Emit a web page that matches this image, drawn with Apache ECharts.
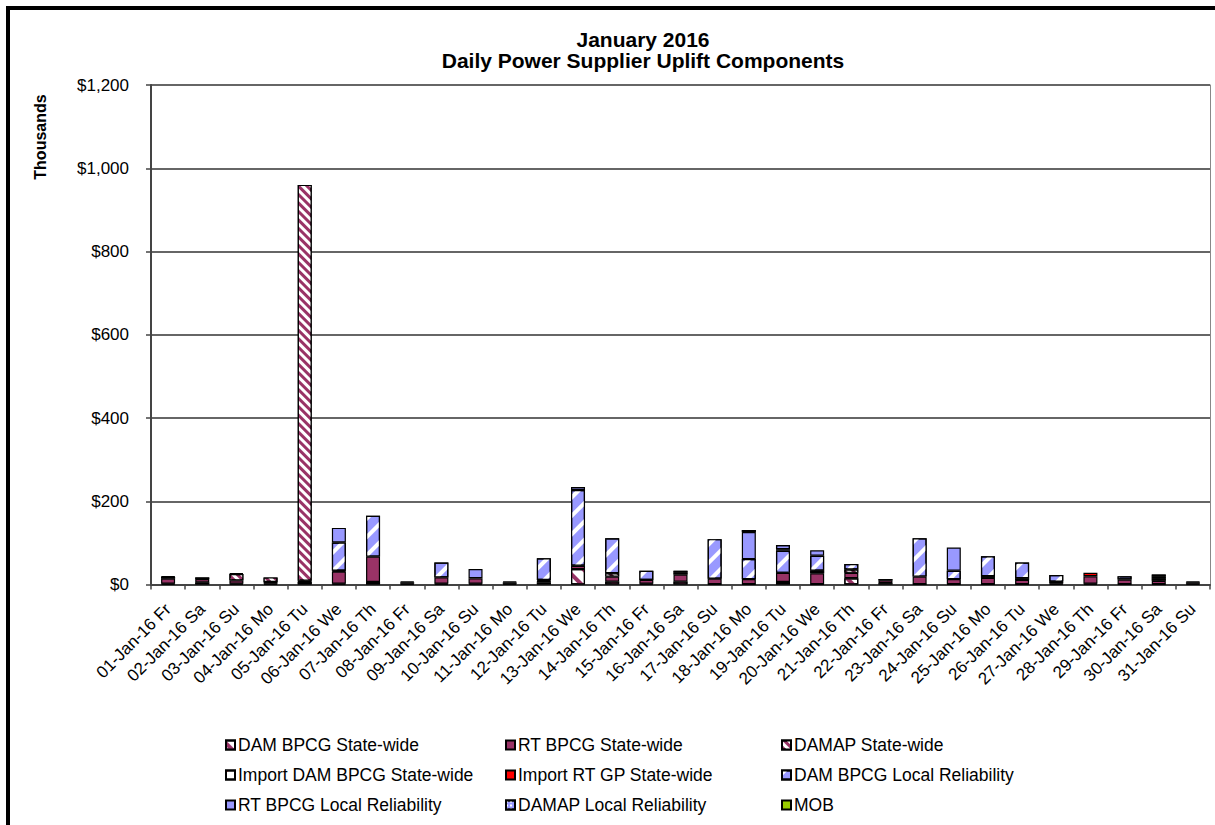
<!DOCTYPE html>
<html>
<head>
<meta charset="utf-8">
<script src="https://cdn.jsdelivr.net/npm/echarts@6/dist/echarts.min.js"></script>
<style>
  html, body { margin: 0; padding: 0; background: #fff; }
  #chart { width: 1215px; height: 825px; }
</style>
</head>
<body>
<div id="chart"></div>
<script>
// categories
const days = [
  '01-Jan-16 Fr', '02-Jan-16 Sa', '03-Jan-16 Su', '04-Jan-16 Mo', '05-Jan-16 Tu', '06-Jan-16 We', '07-Jan-16 Th',
  '08-Jan-16 Fr', '09-Jan-16 Sa', '10-Jan-16 Su', '11-Jan-16 Mo', '12-Jan-16 Tu', '13-Jan-16 We', '14-Jan-16 Th',
  '15-Jan-16 Fr', '16-Jan-16 Sa', '17-Jan-16 Su', '18-Jan-16 Mo', '19-Jan-16 Tu', '20-Jan-16 We', '21-Jan-16 Th',
  '22-Jan-16 Fr', '23-Jan-16 Sa', '24-Jan-16 Su', '25-Jan-16 Mo', '26-Jan-16 Tu', '27-Jan-16 We', '28-Jan-16 Th',
  '29-Jan-16 Fr', '30-Jan-16 Sa', '31-Jan-16 Su'
];

// values in thousands of dollars
const damBpcgSw   = [2, 5, 2, 2, 6, 2, 6, 2, 2, 2, 2, 5, 37, 7, 2, 7, 1, 1, 6, 1, 15, 3, 1, 1, 1, 1, 2, 2, 1, 1, 2];
const rtBpcgSw    = [12, 8, 8, 4, 3, 29, 61, 3, 15, 13, 3, 4, 8, 12, 9, 17, 13, 12, 22, 26, 13, 7, 18, 12, 15, 10, 4, 18, 11, 8, 3];
const damapSw     = [4, 4, 15, 11, 951, 2, 0, 2, 0, 0, 2, 2, 0, 8, 0, 5, 0, 0, 0, 6, 8, 3, 0, 0, 0, 4, 1, 0, 0, 6, 2];
const impDamSw    = [2, 0, 2, 0, 0, 0, 0, 0, 0, 0, 0, 0, 0, 0, 0, 0, 0, 0, 0, 0, 0, 0, 0, 0, 4, 0, 0, 0, 0, 4, 0];
const impRtGpSw   = [0, 0, 0, 0, 0, 0, 0, 0, 0, 0, 0, 0, 0, 0, 0, 0, 0, 0, 0, 0, 0, 0, 0, 0, 0, 0, 0, 8, 0, 0, 0];
const damBpcgLr   = [0, 0, 0, 0, 0, 68, 98, 0, 36, 0, 0, 52, 182, 84, 22, 4, 95, 48, 53, 36, 13, 0, 92, 20, 48, 38, 16, 0, 8, 5, 0];
const rtBpcgLr    = [0, 0, 0, 0, 0, 35, 0, 0, 0, 22, 0, 0, 7, 0, 0, 0, 0, 65, 4, 13, 0, 0, 0, 56, 0, 0, 0, 0, 0, 0, 0];
const damapLr     = [0, 0, 0, 0, 0, 0, 0, 0, 0, 0, 0, 0, 0, 0, 0, 0, 0, 5, 10, 0, 0, 0, 0, 0, 0, 0, 0, 0, 0, 0, 0];
const mob         = [0, 0, 0, 0, 0, 0, 0, 0, 0, 0, 0, 0, 0, 0, 0, 0, 0, 0, 0, 0, 0, 0, 0, 0, 0, 0, 0, 0, 0, 0, 0];

// y axis ticks
const yTicks = [0, 200, 400, 600, 800, 1000, 1200];

const FONT = 'Liberation Sans, Arial, sans-serif';
const MAROON = '#993366';
const BLUE = '#9999FF';

function stripes(color, on, off, angle) {
  return { symbol: 'rect', symbolSize: 1, dashArrayX: [1, 0], dashArrayY: [on, off], rotation: angle, color: color };
}

const seriesDefs = [
  { name: 'DAM BPCG State-wide', data: damBpcgSw, color: '#ffffff', decal: stripes(MAROON, 4, 8, Math.PI / 4) },
  { name: 'RT BPCG State-wide', data: rtBpcgSw, color: MAROON },
  { name: 'DAMAP State-wide', data: damapSw, color: MAROON, decal: stripes('#ffffff', 3, 3, Math.PI / 4) },
  { name: 'Import DAM BPCG State-wide', data: impDamSw, color: '#ffffff', decal: stripes('#cc3333', 2, 10, -Math.PI / 4) },
  { name: 'Import RT GP State-wide', data: impRtGpSw, color: '#FF0000' },
  { name: 'DAM BPCG Local Reliability', data: damBpcgLr, color: BLUE, decal: stripes('#ffffff', 4, 9, -Math.PI / 4) },
  { name: 'RT BPCG Local Reliability', data: rtBpcgLr, color: BLUE },
  { name: 'DAMAP Local Reliability', data: damapLr, color: BLUE, decal: { symbol: 'rect', symbolSize: 1, dashArrayX: [2, 2], dashArrayY: [2, 2], color: '#ffffff' } },
  { name: 'MOB', data: mob, color: '#99CC00' }
];

const series = seriesDefs.map(s => ({
  name: s.name,
  type: 'bar',
  stack: 'total',
  barWidth: 14,
  data: s.data.map(v => (v === 0 ? '-' : v)),
  itemStyle: {
    color: s.color,
    borderColor: '#000',
    borderWidth: 1.2,
    decal: s.decal || null
  },
  emphasis: { disabled: true }
}));

// legend grid: 3 rows x 3 columns, one legend per entry
const legendRows = [
  ['DAM BPCG State-wide', 'RT BPCG State-wide', 'DAMAP State-wide'],
  ['Import DAM BPCG State-wide', 'Import RT GP State-wide', 'DAM BPCG Local Reliability'],
  ['RT BPCG Local Reliability', 'DAMAP Local Reliability', 'MOB']
];
const legendX = [225, 505, 781];
const legendY = [735, 765, 795];

const legends = [];
legendRows.forEach((row, r) => row.forEach((name, c) => {
  legends.push({
    data: [name],
    left: legendX[c],
    top: legendY[r],
    icon: 'rect',
    itemWidth: 9,
    itemHeight: 9,
    selectedMode: false,
    padding: 0,
    textStyle: { fontFamily: FONT, fontSize: 17.5, color: '#000', lineHeight: 20, padding: [0, 0, 0, -2] }
  });
}));

const chart = echarts.init(document.getElementById('chart'), null, { renderer: 'svg' });

const option = {
  animation: false,
  backgroundColor: '#fff',
  textStyle: { fontFamily: FONT },
  grid: { left: 151, right: 5, top: 85, bottom: 240.5 },
  legend: legends,
  xAxis: {
    type: 'category',
    data: days,
    axisLine: { lineStyle: { color: '#444', width: 2 } },
    axisTick: { show: true, length: 5, lineStyle: { color: '#444', width: 1.5 } },
    axisLabel: { rotate: 45, interval: 0, margin: 22, fontSize: 17, color: '#000', fontFamily: FONT }
  },
  yAxis: [{
    type: 'value',
    min: yTicks[0],
    max: yTicks[yTicks.length - 1],
    interval: yTicks[1] - yTicks[0],
    axisLine: { show: true, lineStyle: { color: '#444', width: 2 } },
    axisTick: { show: true, length: 5, lineStyle: { color: '#444', width: 1.5 } },
    axisLabel: {
      margin: 22, fontSize: 17, color: '#000', fontFamily: FONT,
      formatter: v => '$' + v.toLocaleString('en-US')
    },
    splitLine: { lineStyle: { color: '#666', width: 2 } }
  }, {
    type: 'value',
    position: 'right',
    min: yTicks[0],
    max: yTicks[yTicks.length - 1],
    interval: yTicks[1] - yTicks[0],
    axisLine: { show: true, lineStyle: { color: '#888', width: 1 } },
    axisTick: { show: false },
    axisLabel: { show: false },
    splitLine: { show: false }
  }],
  graphic: [
    {
      type: 'rect',
      shape: { x: 8, y: 8, width: 1300, height: 900 },
      style: { fill: 'none', stroke: '#000', lineWidth: 4 },
      silent: true
    },
    {
      type: 'text',
      x: 643, y: 50,
      style: {
        text: 'January 2016\nDaily Power Supplier Uplift Components',
        font: 'bold 21px ' + FONT,
        fill: '#000',
        textAlign: 'center',
        textVerticalAlign: 'middle',
        lineHeight: 21
      }
    },
    {
      type: 'text',
      x: 40, y: 137,
      rotation: Math.PI / 2,
      style: {
        text: 'Thousands',
        font: 'bold 16px ' + FONT,
        fill: '#000',
        textAlign: 'center',
        textVerticalAlign: 'middle'
      }
    }
  ],
  series: series
};

chart.setOption(option);
</script>
</body>
</html>
